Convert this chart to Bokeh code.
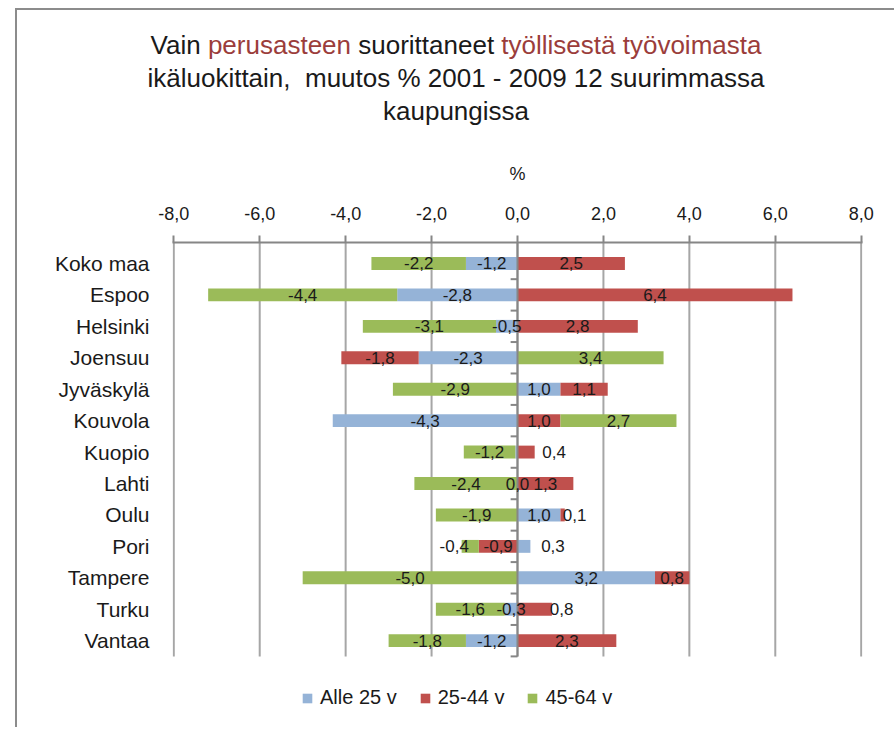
from bokeh.plotting import figure
from bokeh.models import Range1d, FixedTicker, Legend, LegendItem, Div, ColumnDataSource
from bokeh.layouts import column
from bokeh.embed import file_html
from bokeh.resources import INLINE
from bokeh.core.properties import value
import numpy as np

# ---------------- data ----------------
cities = ["Koko maa", "Espoo", "Helsinki", "Joensuu", "Jyväskylä", "Kouvola", "Kuopio",
          "Lahti", "Oulu", "Pori", "Tampere", "Turku", "Vantaa"]
series = ["Alle 25 v", "25-44 v", "45-64 v"]
alle_25 = [-1.2, -2.8, -0.5, -2.3, 1.0, -4.3, -0.05, 0.0, 1.0, 0.3, 3.2, -0.3, -1.2]
v25_44 = [2.5, 6.4, 2.8, -1.8, 1.1, 1.0, 0.4, 1.3, 0.1, -0.9, 0.8, 0.8, 2.3]
v45_64 = [-2.2, -4.4, -3.1, 3.4, -2.9, 2.7, -1.2, -2.4, -1.9, -0.4, -5.0, -1.6, -1.8]
x_ticks = [-8, -6, -4, -2, 0, 2, 4, 6, 8]

# ---------------- style ----------------
FONT = "Liberation Sans"
colors = ["#95B3D7", "#C0504D", "#9BBB59"]
TXT = "#1a1a1a"
TITLE_RED = "#9b3d3b"
GRID = "#a6a6a6"
AXIS = "#868686"
# label nudges in screen px (manual placement as in the original)
label_dx = {("Kuopio", 1): 28, ("Oulu", 1): 12, ("Pori", 0): 29, ("Pori", 2): -16, ("Turku", 1): 27}
hidden_labels = {("Kuopio", 0)}

n = len(cities)
ypos = np.array([n - 1 - i for i in range(n)], dtype=float)

FIG_W, FIG_H = 877, 567
TOP, LEFT, RIGHT = 81, 155, 32
CAT_PX = 31.5                         # pixel height of one category band
TOP_GAP = 21                          # px from top axis to first category centre
frame_h = FIG_H - TOP                 # frame runs down to the bottom (legend area inside)
y_end = (n - 1) + TOP_GAP / CAT_PX
y_start = y_end - frame_h / CAT_PX

p = figure(width=FIG_W, height=FIG_H, x_range=Range1d(-8.03, 8.03),
           y_range=Range1d(y_start, y_end),
           output_backend="svg", toolbar_location=None, x_axis_location="above",
           min_border_left=LEFT, min_border_right=RIGHT, min_border_top=TOP, min_border_bottom=0)
p.outline_line_color = None
p.background_fill_color = "white"
p.xgrid.grid_line_color = None
p.ygrid.grid_line_color = None

# vertical gridlines limited to the category area
p.segment(x0=x_ticks, y0=-0.5, x1=x_ticks, y1=y_end, line_color=GRID, line_width=2)

# stacked diverging bars (Excel-style: positives and negatives stacked separately)
pos_base = np.zeros(n)
neg_base = np.zeros(n)
renderers = []
lab_x, lab_y, lab_t, lab_dx = [], [], [], []
for si, vals in enumerate([alle_25, v25_44, v45_64]):
    v = np.array(vals, dtype=float)
    left = np.where(v >= 0, pos_base, neg_base + v)
    right = np.where(v >= 0, pos_base + v, neg_base)
    pos_base = np.where(v >= 0, pos_base + v, pos_base)
    neg_base = np.where(v < 0, neg_base + v, neg_base)
    src = ColumnDataSource(dict(y=ypos, left=left, right=right))
    r = p.hbar(y="y", left="left", right="right", height=0.41, source=src,
               fill_color=colors[si], line_color=None)
    renderers.append(r)
    for i, c in enumerate(cities):
        if (c, si) in hidden_labels:
            continue
        lab_x.append((left[i] + right[i]) / 2)
        lab_y.append(ypos[i])
        lab_t.append(f"{v[i]:.1f}".replace(".", ","))
        lab_dx.append(label_dx.get((c, si), 0))

# zero axis with category boundary ticks
p.segment(x0=[0], y0=[-0.5], x1=[0], y1=[y_end], line_color=AXIS, line_width=2)
bounds = np.arange(-0.5, n - 1, 1.0)
p.segment(x0=-0.16, y0=bounds, x1=0, y1=bounds, line_color=AXIS, line_width=2)

lsrc = ColumnDataSource(dict(x=lab_x, y=lab_y, t=lab_t, dx=lab_dx))
p.text(x="x", y="y", text="t", x_offset="dx", source=lsrc, text_align="center",
       text_baseline="middle", text_font=value(FONT), text_font_size="17px", text_color=TXT)

# x axis (top)
xa = p.xaxis[0]
xa.ticker = FixedTicker(ticks=x_ticks)
xa.major_label_overrides = {t: f"{t:.1f}".replace(".", ",") for t in x_ticks}
xa.major_label_text_font = FONT
xa.major_label_text_font_size = "18px"
xa.major_label_text_color = TXT
xa.major_label_standoff = 16
xa.axis_label = "%"
xa.axis_label_text_font = FONT
xa.axis_label_text_font_size = "18px"
xa.axis_label_text_font_style = "normal"
xa.axis_label_text_color = TXT
xa.axis_label_standoff = 20
xa.axis_line_color = AXIS
xa.axis_line_width = 2
xa.major_tick_line_color = AXIS
xa.major_tick_line_width = 2
xa.major_tick_out = 7
xa.major_tick_in = 0
xa.minor_tick_line_color = None

# y axis (categories)
ya = p.yaxis[0]
ya.ticker = FixedTicker(ticks=list(ypos))
ya.major_label_overrides = {float(ypos[i]): c for i, c in enumerate(cities)}
ya.major_label_text_font = FONT
ya.major_label_text_font_size = "21px"
ya.major_label_text_color = TXT
ya.major_label_standoff = 17
ya.axis_line_color = None
ya.major_tick_line_color = None
ya.minor_tick_line_color = None

legend = Legend(items=[LegendItem(label=s, renderers=[r]) for s, r in zip(series, renderers)],
                orientation="horizontal", location=(129, 18), margin=0, padding=10,
                glyph_width=12, glyph_height=12, label_standoff=7, spacing=22,
                label_text_font=FONT, label_text_font_size="20px", label_text_color=TXT,
                border_line_color=None, background_fill_alpha=0)
p.add_layout(legend, "center")

title_html = (
    f"<div style=\"width:{FIG_W}px;box-sizing:border-box;padding-top:19px;padding-left:1px;"
    f"text-align:center;font-family:'{FONT}';font-size:26px;line-height:33px;color:{TXT};\">"
    f"Vain <span style=\"color:{TITLE_RED}\">perusasteen</span> suorittaneet "
    f"<span style=\"color:{TITLE_RED}\">työllisestä työvoimasta</span><br>"
    f"ikäluokittain,&nbsp; muutos % 2001 - 2009 12 suurimmassa<br>kaupungissa</div>"
)
div = Div(text=title_html, width=FIG_W, height=150, margin=0)

layout = column(div, p, spacing=0,
                styles={"border-left": "2px solid #8c8c8c", "border-top": "2px solid #8c8c8c",
                        "margin-left": "15px", "margin-top": "8px"})

open("out.html", "w").write(file_html(layout, INLINE))
